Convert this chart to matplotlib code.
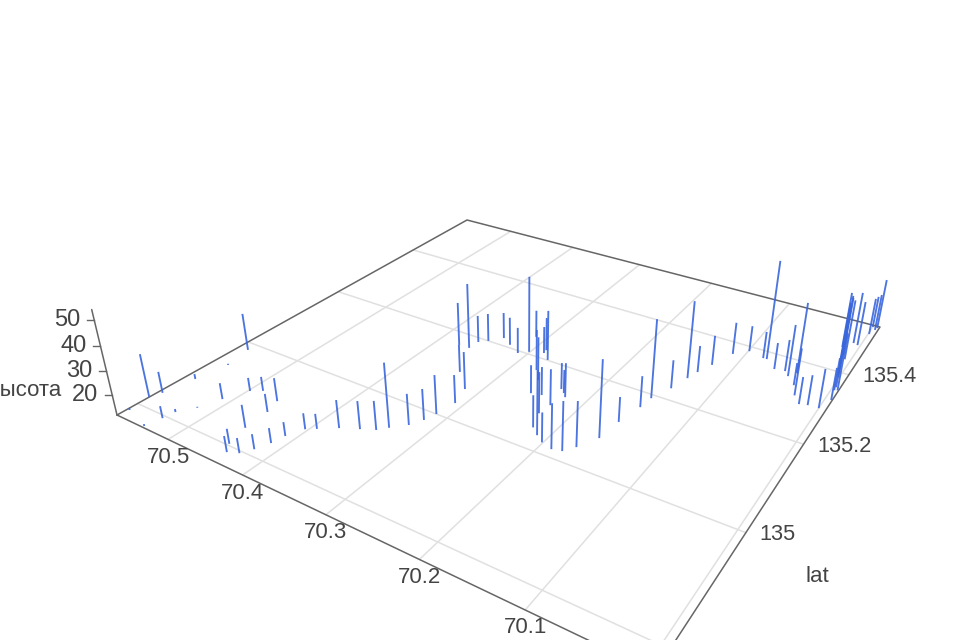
import numpy as np
import matplotlib
matplotlib.use("Agg")
import matplotlib.pyplot as plt

plt.rcParams['font.family'] = ['Liberation Sans', 'DejaVu Sans']

# ---- data: lon offset from 70 (x1000), lat offset from 135 (x1000), height
lon_milli = [575,570,533,531,572,537,519,563,510,556,562,498,487,461,455,453,446,438,427,420,414,411,403,394,377,359,345,337,
             324,317,313,309,316,374,340,361,360,352,341,327,310,301,312,275,287,286,262,274,255,221,211,229,244,201,227,188,
             233,222,227,178,170,159,156,150,148,139,133,129,122,112,99,81,63,77,52,46,40,28,35,19,11,0,-6,-3,16,8,1,3,-3,-6,
             8,3,-1,-4,-5,0,5,6,10,12,2]
lat_milli = [-181,-164,-205,-186,-216,-230,-163,-115,-130,-63,-17,-95,-85,-93,-119,-161,-197,-211,-204,-188,-167,-146,-121,
             -112,-95,-82,-72,-59,-40,-20,0,35,71,166,104,167,189,200,220,208,194,206,250,201,224,215,146,168,112,44,32,76,116,
             22,101,16,144,129,137,20,37,70,116,163,191,229,266,289,319,365,386,378,357,378,360,349,364,305,330,287,291,292,
             321,348,474,425,385,397,357,350,495,492,536,554,562,562,410,440,450,460,390]
height = [29.7,20.5,16.5,12.7,12.3,12.2,11.8,13.6,18.3,11.9,27.7,17.1,17.5,21.3,19.1,21.0,17.6,18.0,17.6,17.6,17.6,17.2,18.1,
          17.7,23.1,23.1,23.5,38.0,24.4,24.4,27.8,23.4,27.4,30.5,23.4,40.0,23.4,23.8,23.0,23.8,22.8,44.6,23.5,33.2,26.0,23.2,
          30.1,29.1,23.5,24.8,37.8,28.7,23.5,23.7,26.7,30.0,22.7,26.0,21.4,31.6,30.1,43.1,21.9,24.6,44.5,23.6,44.4,23.0,24.4,
          25.5,22.8,23.2,23.0,54.0,25.2,33.7,41.8,31.5,21.1,23.0,24.2,28.0,25.2,25.3,35.8,37.9,39.1,38.8,38.8,35.8,34.2,31.0,
          27.7,27.7,33.7,25.5,39.0,37.5,37.0,36.5,38.0]
x_ticks = [70.1, 70.2, 70.3, 70.4, 70.5]
x_grid = [70.0, 70.1, 70.2, 70.3, 70.4, 70.5]
y_ticks = [134.8, 135.0, 135.2, 135.4]
y_tick_labels = ['134.8', '135', '135.2', '135.4']
z_ticks = [20, 30, 40, 50]
x_range = (69.993, 70.575)
y_range = (134.767, 135.568)
z_range = (11.4, 54.0)

# ---- camera: floor corners in image pixels and the vertical vanishing point
W, H_PX = 960, 640
floor_pairs = [((x_range[1], y_range[0]), (117, 415)), ((x_range[1], y_range[1]), (467, 220)),
               ((x_range[0], y_range[1]), (880, 327)), ((x_range[0], y_range[0]), (655, 672))]
vanish = np.array([523.0, 2107.0, 1.0])
z_gain = -0.001377
xc, yc = 70.25, 135.1
rows = []
for (x, y), (u, v) in floor_pairs:
    X, Y = x - xc, y - yc
    rows.append([X, Y, 1, 0, 0, 0, -u*X, -u*Y, -u])
    rows.append([0, 0, 0, X, Y, 1, -v*X, -v*Y, -v])
Hm = np.linalg.svd(np.array(rows, float))[2][-1].reshape(3, 3)
Hm /= Hm[2, 2]
wA = Hm[2] @ [x_range[1] - xc, y_range[0] - yc, 1]
zcol = z_gain * wA * vanish


def project(x, y, z):
    """Perspective projection of (lon, lat, height) onto the canvas, in pixels."""
    x, y, z = np.asarray(x, float), np.asarray(y, float), np.asarray(z, float)
    p = np.outer(x - xc, Hm[:, 0]) + np.outer(y - yc, Hm[:, 1]) + Hm[:, 2] + np.outer(z - z_range[0], zcol)
    return p[:, 0] / p[:, 2], p[:, 1] / p[:, 2]


def line3(x, y, z, **kw):
    ax.plot(*project(x, y, z), solid_capstyle=kw.pop('cap', 'round'), **kw)


fig = plt.figure(figsize=(W/100, H_PX/100), dpi=100, facecolor='white')
ax = fig.add_axes([0, 0, 1, 1])
ax.set_xlim(0, W)
ax.set_ylim(H_PX, 0)
ax.axis('off')

GRID = '#e0e0e0'
EDGE = '#666666'
TXT = '#444444'
STICK = '#3a66dc'
zf = z_range[0]

for gx in x_grid:
    line3([gx, gx], y_range, [zf, zf], color=GRID, lw=1.1, zorder=1)
for gy in y_ticks:
    line3(x_range, [gy, gy], [zf, zf], color=GRID, lw=1.1, zorder=1)

line3([x_range[1], x_range[1], x_range[0], x_range[0], x_range[1]],
      [y_range[0], y_range[1], y_range[1], y_range[0], y_range[0]],
      [zf]*5, color=EDGE, lw=1.1, zorder=2)
line3([x_range[1]]*2, [y_range[0]]*2, z_range, color=EDGE, lw=1.1, zorder=2)

for a, b, h in zip(lon_milli, lat_milli, height):
    lo, la = 70 + a/1000, 135 + b/1000
    line3([lo, lo], [la, la], [zf, h], color=STICK, lw=1.35, alpha=0.9, zorder=3, cap='butt')


def label(u, v, s, ha='center', size=16.0):
    ax.text(u, v, s, ha=ha, va='center', fontsize=size, color=TXT, clip_on=False)


for t in x_ticks:
    u, v = project([t], [y_range[0]], [zf])
    label(u[0], v[0] + 18, f'{t:g}')
for t, s in zip(y_ticks, y_tick_labels):
    u, v = project([x_range[0]], [t], [zf])
    label(u[0] + 14, v[0] + 2, s, ha='left', size=15.7)
for t in z_ticks:
    u, v = project([x_range[1]], [y_range[0]], [t])
    ax.plot([u[0] - 7, u[0]], [v[0], v[0]], color=EDGE, lw=1.0, zorder=2)
    label(u[0] - 14, v[0], str(t), ha='right', size=17)

label(817, 577, 'lat', size=16)
label(62, 391, 'высота', ha='right', size=16)

fig.savefig('out.png', dpi=100, facecolor='white')
